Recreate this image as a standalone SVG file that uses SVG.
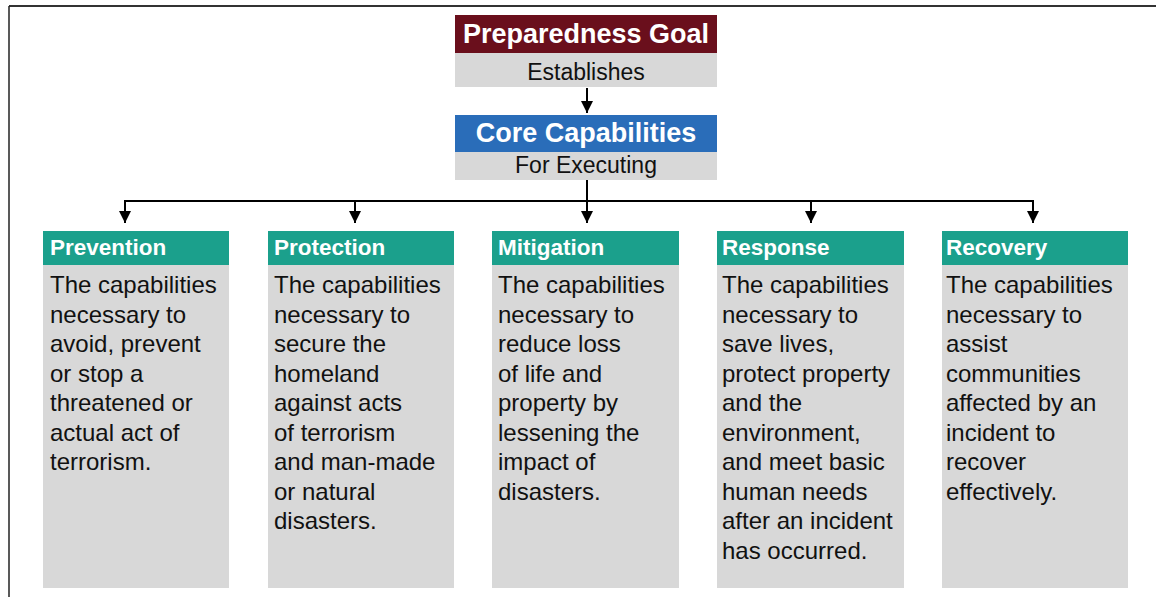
<svg xmlns="http://www.w3.org/2000/svg" width="1156" height="597" viewBox="0 0 1156 597">
<defs>
<style>
.hd{fill:#1BA08C}
.bd{fill:#D8D8D8}
.ht{font-family:"Liberation Sans",Arial,sans-serif;font-weight:bold;font-size:22.5px;fill:#FFFFFF}
.bt{font-family:"Liberation Sans",Arial,sans-serif;font-size:24px;fill:#111111}
.tt{font-family:"Liberation Sans",Arial,sans-serif;font-weight:bold;font-size:27px;fill:#FFFFFF}
.st{font-family:"Liberation Sans",Arial,sans-serif;font-size:23px;fill:#111111}
.cn{stroke:#000;stroke-width:2;fill:none}
</style>
<marker id="ah" markerWidth="14" markerHeight="14" refX="12" refY="6" orient="auto" markerUnits="userSpaceOnUse">
<path d="M0,0 L12,6 L0,12 Z" fill="#000"/>
</marker>
</defs>
<rect x="0" y="0" width="1156" height="597" fill="#FFFFFF"/>
<g id="frame">
<line x1="9" y1="6" x2="1156" y2="6" stroke="#333" stroke-width="2"/>
<line x1="9" y1="6" x2="9" y2="597" stroke="#222" stroke-width="1.5"/>
</g>
<g id="goal">
<rect x="455" y="15" width="262" height="38" fill="#6A0F1C"/>
<rect x="455" y="53" width="262" height="34" fill="#D8D8D8"/>
<text class="tt" x="586" y="43" text-anchor="middle">Preparedness Goal</text>
<text class="st" x="586" y="80" text-anchor="middle">Establishes</text>
</g>
<g id="core">
<rect x="455" y="115" width="262" height="37" fill="#2A6DB9"/>
<rect x="455" y="152" width="262" height="28" fill="#D8D8D8"/>
<text class="tt" x="586" y="142" text-anchor="middle">Core Capabilities</text>
<text class="st" x="586" y="173" text-anchor="middle">For Executing</text>
</g>
<g id="connectors">
<line class="cn" x1="587" y1="88" x2="587" y2="113" marker-end="url(#ah)"/>
<line class="cn" x1="587" y1="180" x2="587" y2="223" marker-end="url(#ah)"/>
<polyline class="cn" points="125,223 125,201 1033,201 1033,223"/>
<line class="cn" x1="125" y1="205" x2="125" y2="223" marker-end="url(#ah)"/>
<line class="cn" x1="355" y1="201" x2="355" y2="223" marker-end="url(#ah)"/>
<line class="cn" x1="811" y1="201" x2="811" y2="223" marker-end="url(#ah)"/>
<line class="cn" x1="1033" y1="205" x2="1033" y2="223" marker-end="url(#ah)"/>
</g>
<g id="prevention">
<rect class="hd" x="43" y="231" width="186" height="34"/>
<rect class="bd" x="43" y="265" width="186" height="323"/>
<text class="ht" x="50" y="255">Prevention</text>
<text class="bt"><tspan x="50" y="293">The capabilities</tspan><tspan x="50" y="322.5">necessary to</tspan><tspan x="50" y="352">avoid, prevent</tspan><tspan x="50" y="381.5">or stop a</tspan><tspan x="50" y="411">threatened or</tspan><tspan x="50" y="440.5">actual act of</tspan><tspan x="50" y="470">terrorism.</tspan></text>
</g>
<g id="protection">
<rect class="hd" x="268" y="231" width="186" height="34"/>
<rect class="bd" x="268" y="265" width="186" height="323"/>
<text class="ht" x="274" y="255">Protection</text>
<text class="bt"><tspan x="274" y="293">The capabilities</tspan><tspan x="274" y="322.5">necessary to</tspan><tspan x="274" y="352">secure the</tspan><tspan x="274" y="381.5">homeland</tspan><tspan x="274" y="411">against acts</tspan><tspan x="274" y="440.5">of terrorism</tspan><tspan x="274" y="470">and man-made</tspan><tspan x="274" y="499.5">or natural</tspan><tspan x="274" y="529">disasters.</tspan></text>
</g>
<g id="mitigation">
<rect class="hd" x="492" y="231" width="187" height="34"/>
<rect class="bd" x="492" y="265" width="187" height="323"/>
<text class="ht" x="498" y="255">Mitigation</text>
<text class="bt"><tspan x="498" y="293">The capabilities</tspan><tspan x="498" y="322.5">necessary to</tspan><tspan x="498" y="352">reduce loss</tspan><tspan x="498" y="381.5">of life and</tspan><tspan x="498" y="411">property by</tspan><tspan x="498" y="440.5">lessening the</tspan><tspan x="498" y="470">impact of</tspan><tspan x="498" y="499.5">disasters.</tspan></text>
</g>
<g id="response">
<rect class="hd" x="717" y="231" width="187" height="34"/>
<rect class="bd" x="717" y="265" width="187" height="323"/>
<text class="ht" x="722" y="255">Response</text>
<text class="bt"><tspan x="722" y="293">The capabilities</tspan><tspan x="722" y="322.5">necessary to</tspan><tspan x="722" y="352">save lives,</tspan><tspan x="722" y="381.5">protect property</tspan><tspan x="722" y="411">and the</tspan><tspan x="722" y="440.5">environment,</tspan><tspan x="722" y="470">and meet basic</tspan><tspan x="722" y="499.5">human needs</tspan><tspan x="722" y="529">after an incident</tspan><tspan x="722" y="558.5">has occurred.</tspan></text>
</g>
<g id="recovery">
<rect class="hd" x="942" y="231" width="186" height="34"/>
<rect class="bd" x="942" y="265" width="186" height="323"/>
<text class="ht" x="946" y="255">Recovery</text>
<text class="bt"><tspan x="946" y="293">The capabilities</tspan><tspan x="946" y="322.5">necessary to</tspan><tspan x="946" y="352">assist</tspan><tspan x="946" y="381.5">communities</tspan><tspan x="946" y="411">affected by an</tspan><tspan x="946" y="440.5">incident to</tspan><tspan x="946" y="470">recover</tspan><tspan x="946" y="499.5">effectively.</tspan></text>
</g>
</svg>
